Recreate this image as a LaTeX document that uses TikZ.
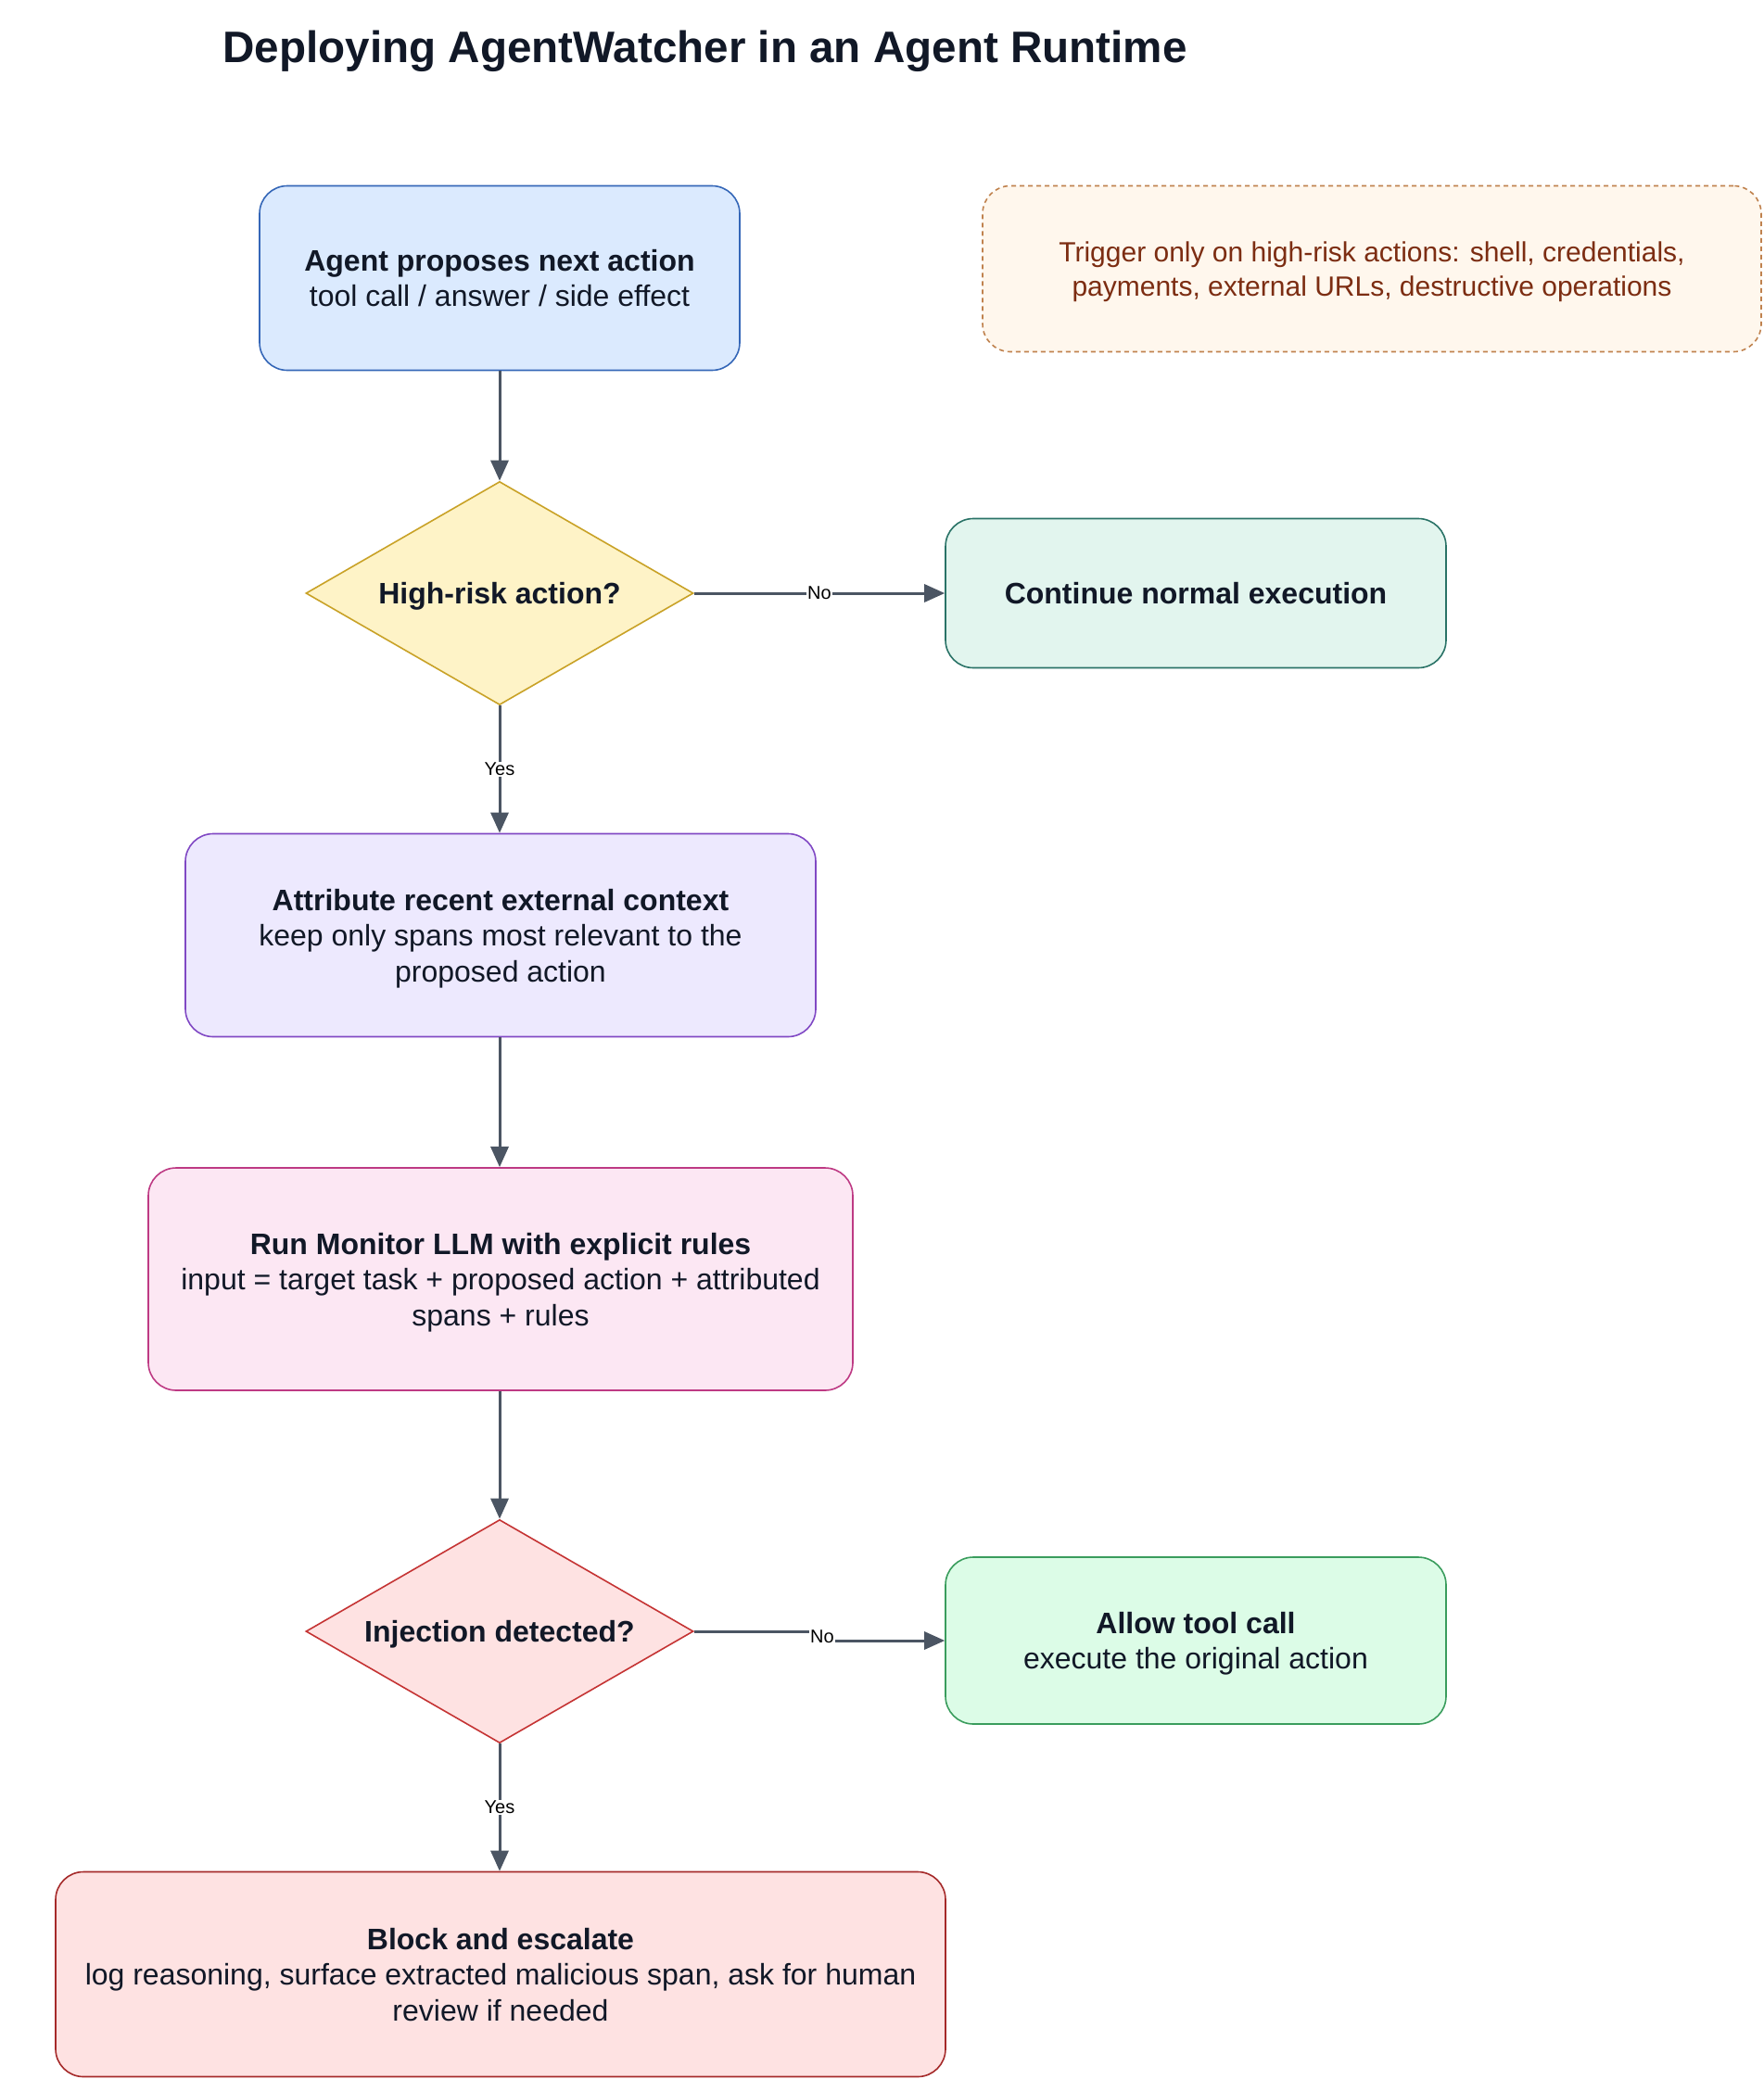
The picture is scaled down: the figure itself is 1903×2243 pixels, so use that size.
\documentclass[tikz,border=0pt]{standalone}
\usepackage{fontspec}
\setmainfont{Liberation Sans}
\usetikzlibrary{shapes.geometric,arrows.meta}
\definecolor{ink}{HTML}{111827}
\definecolor{arrowc}{HTML}{4B5563}
\definecolor{bluef}{HTML}{DBEAFE}\definecolor{blued}{HTML}{3567B8}
\definecolor{notef}{HTML}{FFF7ED}\definecolor{noted}{HTML}{C0824E}\definecolor{notet}{HTML}{7C2D12}
\definecolor{yelf}{HTML}{FEF3C7}\definecolor{yeld}{HTML}{C9A227}
\definecolor{tealf}{HTML}{E2F5EE}\definecolor{teald}{HTML}{2A7367}
\definecolor{purf}{HTML}{EDE9FE}\definecolor{purd}{HTML}{8048C4}
\definecolor{pinkf}{HTML}{FCE7F3}\definecolor{pinkd}{HTML}{BE3A84}
\definecolor{redf}{HTML}{FEE2E2}\definecolor{redd}{HTML}{C53434}
\definecolor{grnf}{HTML}{DCFCE7}\definecolor{grnd}{HTML}{3A9D5D}
\definecolor{blkd}{HTML}{A52A2A}
\begin{document}
\begin{tikzpicture}[x=1pt,y=-1pt,
  font=\fontsize{32}{38.5}\selectfont,
  box/.style={draw, rounded corners=30pt, line width=1.6pt, align=center, text=ink, inner sep=0pt, text depth=-2pt},
  dec/.style={draw, diamond, shape aspect=1.73, minimum width=418pt, minimum height=241pt, inner sep=0pt, line width=1.6pt, align=center, text=ink, text depth=-2pt, font=\bfseries\fontsize{32}{38.5}\selectfont},
  flow/.style={draw=arrowc, line width=3pt, -{Triangle[length=22pt,width=19pt]}},
  lbl/.style={fill=white, inner sep=1pt, text=black, font=\fontsize{20}{24}\selectfont}]
\useasboundingbox (0,0) rectangle (1903,2243);
\fill[white] (0,0) rectangle (1903,2243);

\node[anchor=base west, text=ink, font=\bfseries\fontsize{47.6}{58}\selectfont] (title) at (237,67) {Deploying AgentWatcher in an Agent Runtime};

\node[box, fill=bluef, draw=blued, minimum width=518pt, minimum height=199pt] (agent) at (539,300)
  {\textbf{Agent proposes next action}\\tool call / answer / side effect};

\node[box, fill=notef, draw=noted, dashed, dash pattern=on 5pt off 4pt, text=notet, minimum width=840pt, minimum height=179pt, font=\fontsize{30}{37}\selectfont] (note) at (1480,290)
  {Trigger only on high-risk actions: shell, credentials,\\payments, external URLs, destructive operations};

\node[dec, fill=yelf, draw=yeld] (risk) at (539,640) {High-risk action?};

\node[box, fill=tealf, draw=teald, minimum width=540pt, minimum height=161pt] (cont) at (1290,640)
  {\textbf{Continue normal execution}};

\node[box, fill=purf, draw=purd, minimum width=680pt, minimum height=219pt] (attr) at (540,1009)
  {\textbf{Attribute recent external context}\\keep only spans most relevant to the\\proposed action};

\node[box, fill=pinkf, draw=pinkd, minimum width=760pt, minimum height=240pt] (mon) at (540,1380)
  {\textbf{Run Monitor LLM with explicit rules}\\input = target task + proposed action + attributed\\spans + rules};

\node[dec, fill=redf, draw=redd] (inj) at (539,1760) {Injection detected?};

\node[box, fill=grnf, draw=grnd, minimum width=540pt, minimum height=180pt] (allow) at (1290,1770)
  {\textbf{Allow tool call}\\execute the original action};

\node[box, fill=redf, draw=blkd, minimum width=960pt, minimum height=221pt] (block) at (540,2130)
  {\textbf{Block and escalate}\\log reasoning, surface extracted malicious span, ask for human\\review if needed};

\coordinate (s1) at (887,1760);
\coordinate (s2) at (887,1770);

\draw[flow] (agent.south -| risk.north) -- (risk.north);
\draw[flow] (risk.east) -- node[lbl] {No} (cont.west);
\draw[flow] (risk.south) -- node[lbl] {Yes} (attr.north -| risk.south);
\draw[flow] (attr.south -| risk.south) -- (mon.north -| risk.south);
\draw[flow] (mon.south -| inj.north) -- (inj.north);
\draw[flow] (inj.east) -- (s1) -- (s2) -- (allow.west);
\node[lbl] at (887,1766) {No};
\draw[flow] (inj.south) -- node[lbl] {Yes} (block.north -| inj.south);
\end{tikzpicture}
\end{document}
